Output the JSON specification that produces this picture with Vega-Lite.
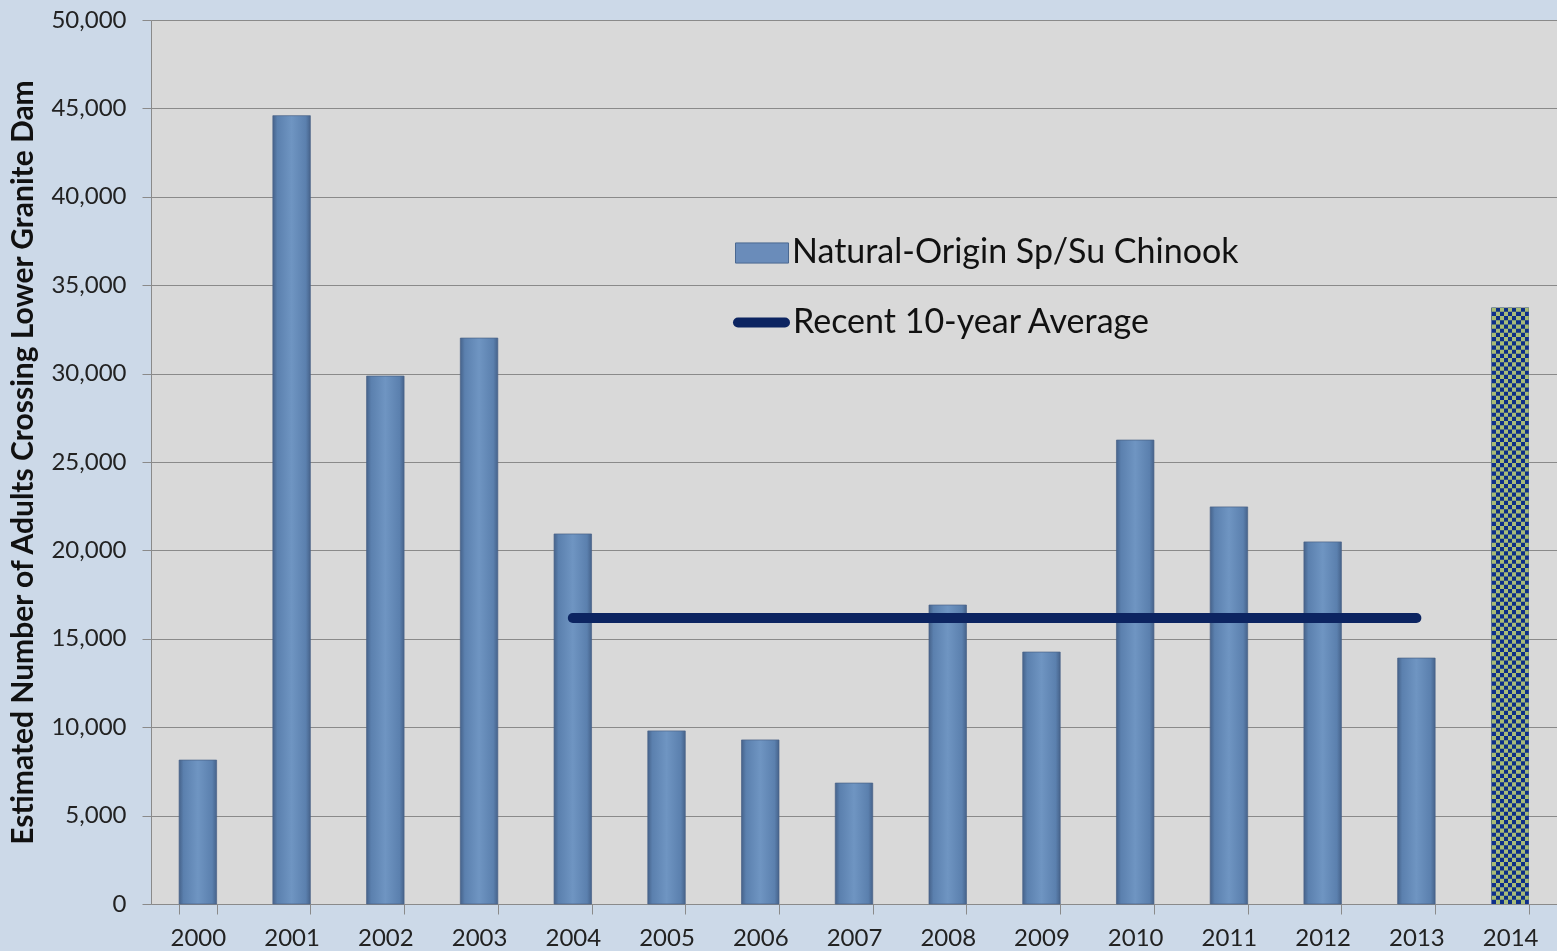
{
  "$schema": "https://vega.github.io/schema/vega-lite/v6.json",
  "width": 1406,
  "height": 884,
  "autosize": {"type": "none"},
  "padding": {"left": 151, "top": 20, "right": 0, "bottom": 47},
  "background": "#ccd9e8",
  "config": {
    "view": {"fill": "#d9d9d9", "stroke": null},
    "font": "Lato"
  },
  "data": {"values": [
    {"year": "2000", "value": 8140},
    {"year": "2001", "value": 44590},
    {"year": "2002", "value": 29860},
    {"year": "2003", "value": 32010},
    {"year": "2004", "value": 20930},
    {"year": "2005", "value": 9790},
    {"year": "2006", "value": 9280},
    {"year": "2007", "value": 6840},
    {"year": "2008", "value": 16910},
    {"year": "2009", "value": 14250},
    {"year": "2010", "value": 26240},
    {"year": "2011", "value": 22460},
    {"year": "2012", "value": 20480},
    {"year": "2013", "value": 13910},
    {"year": "2014", "value": 33730}
  ]},
  "encoding": {
    "x": {
      "field": "year", "type": "ordinal",
      "scale": {"paddingInner": 0.6, "paddingOuter": 0.3},
      "axis": {"title": null, "labelAngle": 0, "tickBand": "extent", "tickSize": 10, "labelPadding": 12,
        "domainColor": "#8a8a8a", "tickColor": "#8a8a8a", "labelFont": "Lato", "labelFontSize": 24, "labelColor": "#222222", "grid": false}
    },
    "y": {
      "field": "value", "type": "quantitative",
      "scale": {"domain": [0, 50000], "nice": false},
      "axis": {"values": [0, 5000, 10000, 15000, 20000, 25000, 30000, 35000, 40000, 45000, 50000],
        "labelExpr": "format(datum.value, ',')",
        "grid": true, "gridColor": "#8a8a8a", "gridWidth": 1, "domainColor": "#8a8a8a", "tickColor": "#8a8a8a", "tickSize": 9,
        "labelFont": "Lato", "labelFontSize": 24, "labelColor": "#222222", "labelPadding": 16,
        "title": "Estimated Number of Adults Crossing Lower Granite Dam", "titleFont": "Lato", "titleFontSize": 30,
        "titleFontWeight": "bold", "titleColor": "#111111", "titlePadding": 12}
    }
  },
  "layer": [
    {
      "transform": [{"filter": "false"}],
      "mark": {"type": "bar"},
      "encoding": {
        "fill": {"datum": "Natural-Origin Sp/Su Chinook", "type": "nominal", "scale": {"range": ["#6a8cba"]},
          "legend": {"orient": "none", "legendX": 584, "legendY": 206, "title": null, "padding": 0,
            "labelFont": "Lato", "labelFontSize": 34, "labelColor": "#111111", "labelLimit": 0, "labelOffset": 3,
            "symbolType": "M-1,-0.38H1V0.38H-1Z", "symbolSize": 2809, "symbolStrokeWidth": 1, "symbolOpacity": 1,
            "encode": {"symbols": {"update": {
              "fill": {"value": {"gradient": "linear", "x1": 0, "y1": 0, "x2": 0, "y2": 1, "stops": [
                {"offset": 0, "color": "#9cc0ea"}, {"offset": 0.25, "color": "#6e94c2"}, {"offset": 1, "color": "#4a6891"}]}},
              "stroke": {"value": "#4a6891"}}}}}
        }
      }
    },
    {
      "transform": [{"filter": "datum.year != '2014'"}],
      "mark": {"type": "bar", "stroke": "#4a6388", "strokeWidth": 1, "strokeOpacity": 0.7,
        "fill": {"gradient": "linear", "x1": 0, "y1": 0, "x2": 1, "y2": 0, "stops": [
          {"offset": 0, "color": "#46638b"}, {"offset": 0.12, "color": "#5b80ae"}, {"offset": 0.5, "color": "#6f95c2"},
          {"offset": 0.88, "color": "#5b80ae"}, {"offset": 1, "color": "#46638b"}]}}
    },
    {
      "transform": [{"filter": "datum.year == '2014'"}],
      "mark": {"type": "bar",
        "fill": {"gradient": "linear", "x1": 0, "y1": 0, "x2": 1, "y2": 0, "stops": [
          {"offset": 0, "color": "#0d2f8a"}, {"offset": 0.111, "color": "#0d2f8a"},
          {"offset": 0.111, "color": "#a8bc7a"}, {"offset": 0.222, "color": "#a8bc7a"},
          {"offset": 0.222, "color": "#0d2f8a"}, {"offset": 0.333, "color": "#0d2f8a"},
          {"offset": 0.333, "color": "#a8bc7a"}, {"offset": 0.444, "color": "#a8bc7a"},
          {"offset": 0.444, "color": "#0d2f8a"}, {"offset": 0.556, "color": "#0d2f8a"},
          {"offset": 0.556, "color": "#a8bc7a"}, {"offset": 0.667, "color": "#a8bc7a"},
          {"offset": 0.667, "color": "#0d2f8a"}, {"offset": 0.778, "color": "#0d2f8a"},
          {"offset": 0.778, "color": "#a8bc7a"}, {"offset": 0.889, "color": "#a8bc7a"},
          {"offset": 0.889, "color": "#0d2f8a"}, {"offset": 1, "color": "#0d2f8a"}]}}
    },
    {
      "transform": [{"filter": "datum.year == '2014'"}],
      "mark": {"type": "rule", "stroke": "#b5ebff", "strokeWidth": 37.5, "strokeDash": [4.2, 4.2], "strokeCap": "butt", "blend": "difference"},
      "encoding": {"y2": {"datum": 0}}
    },
    {
      "data": {"values": [{"start": "2004", "end": "2013", "avg": 16180}]},
      "mark": {"type": "rule", "strokeWidth": 10, "strokeCap": "round"},
      "encoding": {
        "x": {"field": "start", "type": "ordinal"},
        "x2": {"field": "end"},
        "y": {"field": "avg", "type": "quantitative"},
        "stroke": {"datum": "Recent 10-year Average", "type": "nominal", "scale": {"range": ["#0c2461"]},
          "legend": {"orient": "none", "legendX": 582, "legendY": 274, "title": null, "padding": 0,
            "labelFont": "Lato", "labelFontSize": 34, "labelColor": "#111111", "labelLimit": 0, "labelOffset": 3,
            "symbolType": "stroke", "symbolSize": 2209, "symbolStrokeWidth": 10, "symbolStrokeColor": "#0c2461",
            "encode": {"symbols": {"update": {"strokeCap": {"value": "round"}}}}}
        }
      }
    }
  ]
}
